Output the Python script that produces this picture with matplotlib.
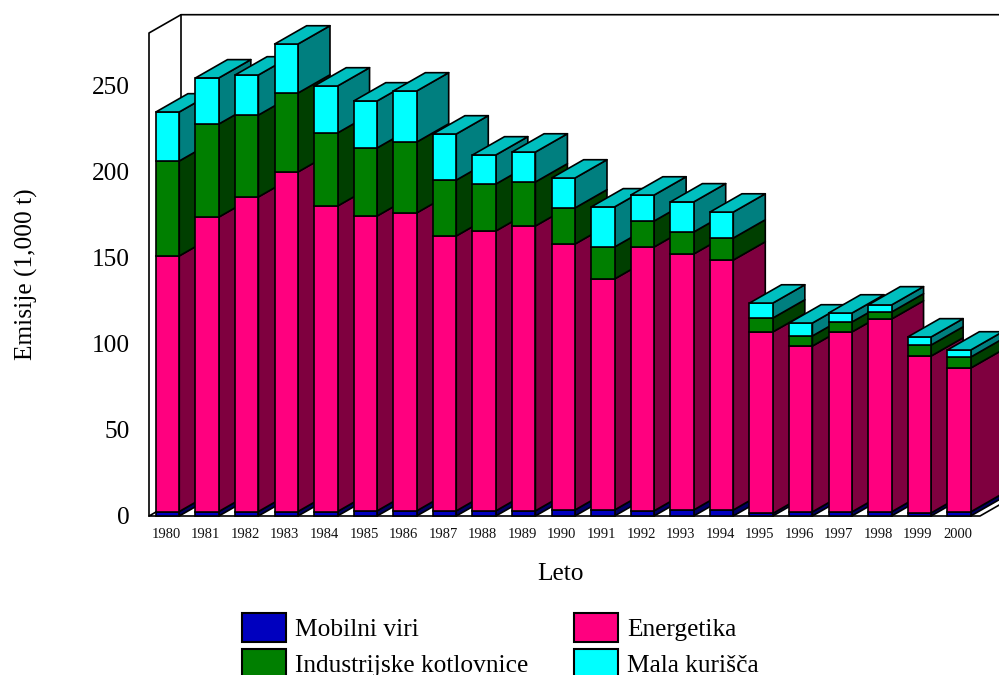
import numpy as np
import matplotlib
matplotlib.use("Agg")
import matplotlib.pyplot as plt
from matplotlib.patches import Patch, Polygon

plt.rcParams['font.family'] = ['Liberation Serif', 'DejaVu Serif']

years = [str(y) for y in range(1980, 2001)]
mobilni = [2.6, 2.6, 2.6, 2.6, 2.6, 3.0, 3.0, 3.0, 3.0, 3.0, 3.5, 3.5, 3.0, 3.5, 3.5, 1.5, 2.4, 2.4, 2.4, 1.8, 2.4]
energetika = [148.6, 171.2, 182.9, 197.4, 177.6, 171.4, 173.2, 159.8, 162.7, 165.6, 154.6, 134.3, 153.4, 148.8, 145.3, 105.5, 96.4, 104.6, 112.1, 91.2, 83.6]
industrijske = [55.2, 54.1, 47.6, 45.9, 42.5, 39.6, 41.2, 32.5, 27.3, 25.6, 21.0, 18.6, 15.1, 12.8, 12.8, 8.1, 5.9, 5.8, 4.1, 6.4, 6.4]
mala = [28.5, 26.8, 23.3, 28.5, 27.3, 27.3, 29.7, 26.8, 16.9, 17.4, 17.4, 23.3, 15.1, 17.5, 15.1, 8.7, 7.5, 5.2, 4.1, 4.7, 4.1]

series = [mobilni, energetika, industrijske, mala]
labels = ["Mobilni viri", "Energetika", "Industrijske kotlovnice", "Mala kurišča"]
front = ["#0000BF", "#FF007F", "#007F00", "#00FFFF"]
side = ["#00005F", "#7F003F", "#003F00", "#007F7F"]
top_col = "#00BFBF"

W, H = 999, 675
fig = plt.figure(figsize=(W / 100, H / 100), dpi=100)
L, R, T, B = 149, 980, 33, 516
ax = fig.add_axes([L / W, 1 - B / H, (R - L) / W, (B - T) / H])
ax.set_ylim(0, (B - T) / 1.72)
ax.set_xlim(-0.47, 20.53)
ax.axis("off")

bw = 0.59
dx = 32 / ((R - L) / 21)
dy = 18.3 / 1.72
lw = 1.2
ymax = ax.get_ylim()[1]
x0, x1 = ax.get_xlim()

def poly(pts, fc, z):
    ax.add_patch(Polygon(pts, closed=True, facecolor=fc, edgecolor="black", lw=lw,
                         zorder=z, clip_on=False, joinstyle="round"))

# frame
poly([(x0, 0), (x1, 0), (x1 + dx, dy), (x0 + dx, dy)], "white", 1)
frame = dict(color="black", lw=1.2, zorder=1, clip_on=False)
ax.plot([x0, x0, x0 + dx, x1 + dx], [0, ymax, ymax + dy, ymax + dy], **frame)
ax.plot([x0 + dx, x0 + dx], [dy, ymax + dy], **frame)

z = 2
for i in range(len(years)):
    xl, xr = i - bw / 2, i + bw / 2
    bottom = 0.0
    for s, vals in enumerate(series):
        v = vals[i]
        poly([(xr, bottom), (xr + dx, bottom + dy), (xr + dx, bottom + v + dy), (xr, bottom + v)], side[s], z)
        ax.bar(i, v, bw, bottom=bottom, color=front[s], edgecolor="black", lw=lw, zorder=z + 0.5, clip_on=False)
        bottom += v
        z += 1
    poly([(xl, bottom), (xr, bottom), (xr + dx, bottom + dy), (xl + dx, bottom + dy)], top_col, z)
    z += 1

for i, y in enumerate(years):
    ax.annotate(y, (i, 0), xytext=(-1.5, -18), textcoords="offset pixels", ha="center", va="center",
                fontsize=10.5, color="#111111", annotation_clip=False)
for v in range(0, 251, 50):
    ax.annotate(str(v), (x0, v), xytext=(-19, -2), textcoords="offset pixels", ha="right", va="center",
                fontsize=18.3, annotation_clip=False)

fig.text(26 / W, 1 - 274 / H, "Emisije (1,000 t)", rotation=90, ha="center", va="center", fontsize=18.3)
fig.text(561 / W, 1 - 574 / H, "Leto", ha="center", va="center", fontsize=18.3)

handles = [Patch(facecolor=front[k], edgecolor="black", lw=1.5) for k in (0, 2, 1, 3)]
texts = [labels[k] for k in (0, 2, 1, 3)]
fig.legend(handles, texts, ncol=2, loc="upper left", bbox_to_anchor=(242 / W, 1 - 613 / H),
           bbox_transform=fig.transFigure, frameon=False, fontsize=18.3, borderpad=0, borderaxespad=0,
           handlelength=1.73, handleheight=1.38, labelspacing=0.26, handletextpad=0.35, columnspacing=1.81)

fig.savefig("out.png", dpi=100)
